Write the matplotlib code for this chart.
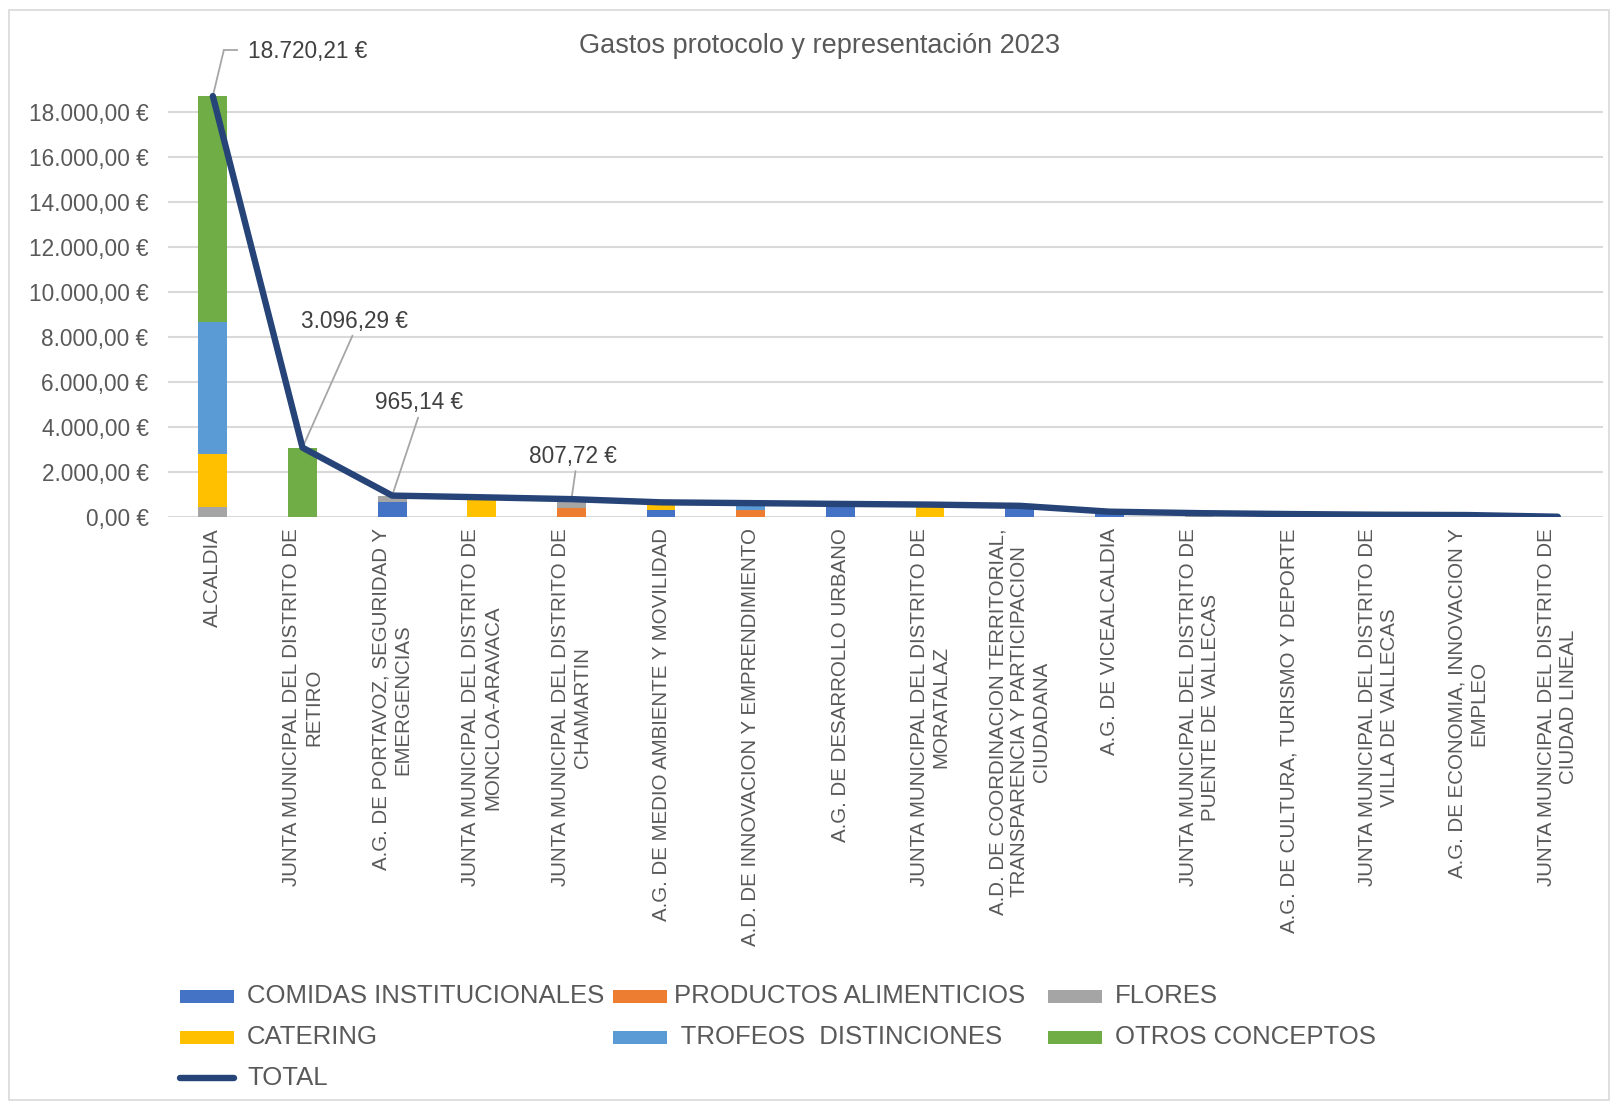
import matplotlib
matplotlib.use("Agg")
import matplotlib.pyplot as plt
from matplotlib.patches import Rectangle
from matplotlib.lines import Line2D

plt.rcParams['font.family'] = ['Liberation Sans', 'DejaVu Sans']

# ---------------- data ----------------
categories = [
    "ALCALDIA",
    "JUNTA MUNICIPAL DEL DISTRITO DE\nRETIRO",
    "A.G. DE PORTAVOZ, SEGURIDAD Y\nEMERGENCIAS",
    "JUNTA MUNICIPAL DEL DISTRITO DE\nMONCLOA-ARAVACA",
    "JUNTA MUNICIPAL DEL DISTRITO DE\nCHAMARTIN",
    "A.G. DE MEDIO AMBIENTE Y MOVILIDAD",
    "A.D. DE INNOVACION Y EMPRENDIMIENTO",
    "A.G. DE DESARROLLO URBANO",
    "JUNTA MUNICIPAL DEL DISTRITO DE\nMORATALAZ",
    "A.D. DE COORDINACION TERRITORIAL,\nTRANSPARENCIA Y PARTICIPACION\nCIUDADANA",
    "A.G. DE VICEALCALDIA",
    "JUNTA MUNICIPAL DEL DISTRITO DE\nPUENTE DE VALLECAS",
    "A.G. DE CULTURA, TURISMO Y DEPORTE",
    "JUNTA MUNICIPAL DEL DISTRITO DE\nVILLA DE VALLECAS",
    "A.G. DE ECONOMIA, INNOVACION Y\nEMPLEO",
    "JUNTA MUNICIPAL DEL DISTRITO DE\nCIUDAD LINEAL",
]

comidas_institucionales = [0, 0, 700, 0, 0, 330, 0, 595, 0, 510, 250, 0, 145, 0, 100, 0]
productos_alimenticios = [0, 0, 0, 0, 435, 0, 320, 0, 0, 0, 0, 0, 0, 0, 0, 0]
flores = [470, 0, 265.14, 0, 372.72, 0, 0, 0, 0, 0, 0, 185, 0, 115, 0, 25]
catering = [2330, 0, 0, 890, 0, 335, 0, 0, 565, 0, 0, 0, 0, 0, 0, 0]
trofeos_distinciones = [5870, 0, 0, 0, 0, 0, 310, 0, 0, 0, 0, 0, 0, 0, 0, 0]
otros_conceptos = [10050.21, 3096.29, 0, 0, 0, 0, 0, 0, 0, 0, 0, 0, 0, 0, 0, 0]
total = [18720.21, 3096.29, 965.14, 890, 807.72, 665, 630, 595, 565, 510,
         250, 185, 145, 115, 100, 25]

series_names = ["COMIDAS INSTITUCIONALES", "PRODUCTOS ALIMENTICIOS", "FLORES",
                "CATERING", " TROFEOS  DISTINCIONES", "OTROS CONCEPTOS"]
series_colors = ["#4472C4", "#ED7D31", "#A5A5A5", "#FFC000", "#5B9BD5", "#70AD47"]
total_name = "TOTAL"
total_color = "#264478"

ytick_values = [0, 2000, 4000, 6000, 8000, 10000, 12000, 14000, 16000, 18000]
ytick_labels = ["0,00 €", "2.000,00 €", "4.000,00 €", "6.000,00 €", "8.000,00 €",
                "10.000,00 €", "12.000,00 €", "14.000,00 €", "16.000,00 €", "18.000,00 €"]

labelled_index = [0, 1, 2, 4]
labelled_text = ["18.720,21 €", "3.096,29 €", "965,14 €", "807,72 €"]

title = "Gastos protocolo y representación 2023"

# ---------------- figure ----------------
W, H = 1611, 1102
fig = plt.figure(figsize=(W / 100, H / 100), dpi=100)
fig.patch.set_facecolor("white")
fig.add_artist(Rectangle((9 / W, 1 - 1100 / H), 1600 / W, 1090 / H,
                         transform=fig.transFigure, fill=False,
                         edgecolor="#D9D9D9", lw=1.2))

ax = fig.add_axes([168 / W, 1 - 517.3 / H, 1434.6 / W, 450 / H])
TXT = "#595959"

x = list(range(len(categories)))
series = [comidas_institucionales, productos_alimenticios, flores,
          catering, trofeos_distinciones, otros_conceptos]
bottom = [0.0] * len(categories)
for vals, col in zip(series, series_colors):
    ax.bar(x, vals, width=0.32, bottom=bottom, color=col, zorder=2)
    bottom = [b + v for b, v in zip(bottom, vals)]

ax.plot(x, total, color=total_color, lw=4.6, solid_capstyle="round",
        solid_joinstyle="round", zorder=4)

ax.set_xlim(-0.5, len(categories) - 0.5)
ax.set_ylim(0, 20000)
ax.set_yticks(ytick_values)
ax.set_yticklabels(ytick_labels, fontsize=16.3, color=TXT)
ax.set_xticks(x)
ax.set_xticklabels(categories, rotation=90, fontsize=14.8, color=TXT,
                   multialignment="center", linespacing=1.2)
ax.tick_params(axis="both", length=0)
ax.tick_params(axis="y", pad=14)
ax.tick_params(axis="x", pad=8)
for s in ax.spines.values():
    s.set_visible(False)
ax.grid(axis="y", color="#D9D9D9", lw=1.5, zorder=0)
ax.set_axisbelow(True)

# ---------------- data labels with leader lines ----------------
# text offsets (pixels) from the marked point, and leader end offsets
lab_text_off = [(35, 45), (52, 126), (27, 93), (1, 43)]
lab_lead_end = [(11, 46), (50, 112), (26, 78), (4, 28)]
for idx, txt, toff, loff in zip(labelled_index, labelled_text, lab_text_off, lab_lead_end):
    px, py = ax.transData.transform((idx, total[idx]))
    ax.annotate(txt, xy=(idx, total[idx]), xytext=(toff[0], toff[1]),
                textcoords="offset pixels", ha="left" if idx == 0 else "center",
                va="center", fontsize=16.3, color="#404040",
                annotation_clip=False, zorder=6)
    ax.annotate("", xy=(idx, total[idx]), xytext=(loff[0], loff[1]),
                textcoords="offset pixels", annotation_clip=False,
                arrowprops=dict(arrowstyle="-", color="#A6A6A6", lw=1.3,
                                shrinkA=0, shrinkB=0))
    if idx == 0:
        fig.add_artist(Line2D([(px + loff[0]) / W, (px + 24) / W],
                              [(py + loff[1]) / H, (py + loff[1]) / H],
                              color="#A6A6A6", lw=1.3))

# ---------------- title ----------------
fig.text(820 / W, 1 - 46 / H, title, ha="center", va="center",
         fontsize=19.5, color=TXT)

# ---------------- legend (manual placement, Excel-like) ----------------
col_x = [180, 613, 1048]
text_x = [247, 674, 1115]
row_y = [996, 1037, 1078]
entries = list(zip(series_names, series_colors)) + [(total_name, total_color)]
for k, (name, col) in enumerate(entries):
    r, c = divmod(k, 3)
    yc = 1 - row_y[r] / H
    if name == total_name:
        fig.add_artist(Line2D([col_x[c] / W, (col_x[c] + 54) / W], [yc, yc],
                              color=col, lw=4.6, solid_capstyle="round"))
    else:
        fig.add_artist(Rectangle((col_x[c] / W, yc - 6.5 / H), 54 / W, 13 / H,
                                 transform=fig.transFigure, color=col, lw=0))
    fig.text(text_x[c] / W, yc, name, ha="left", va="center",
             fontsize=18.5, color=TXT)

fig.savefig("out.png", dpi=100)
